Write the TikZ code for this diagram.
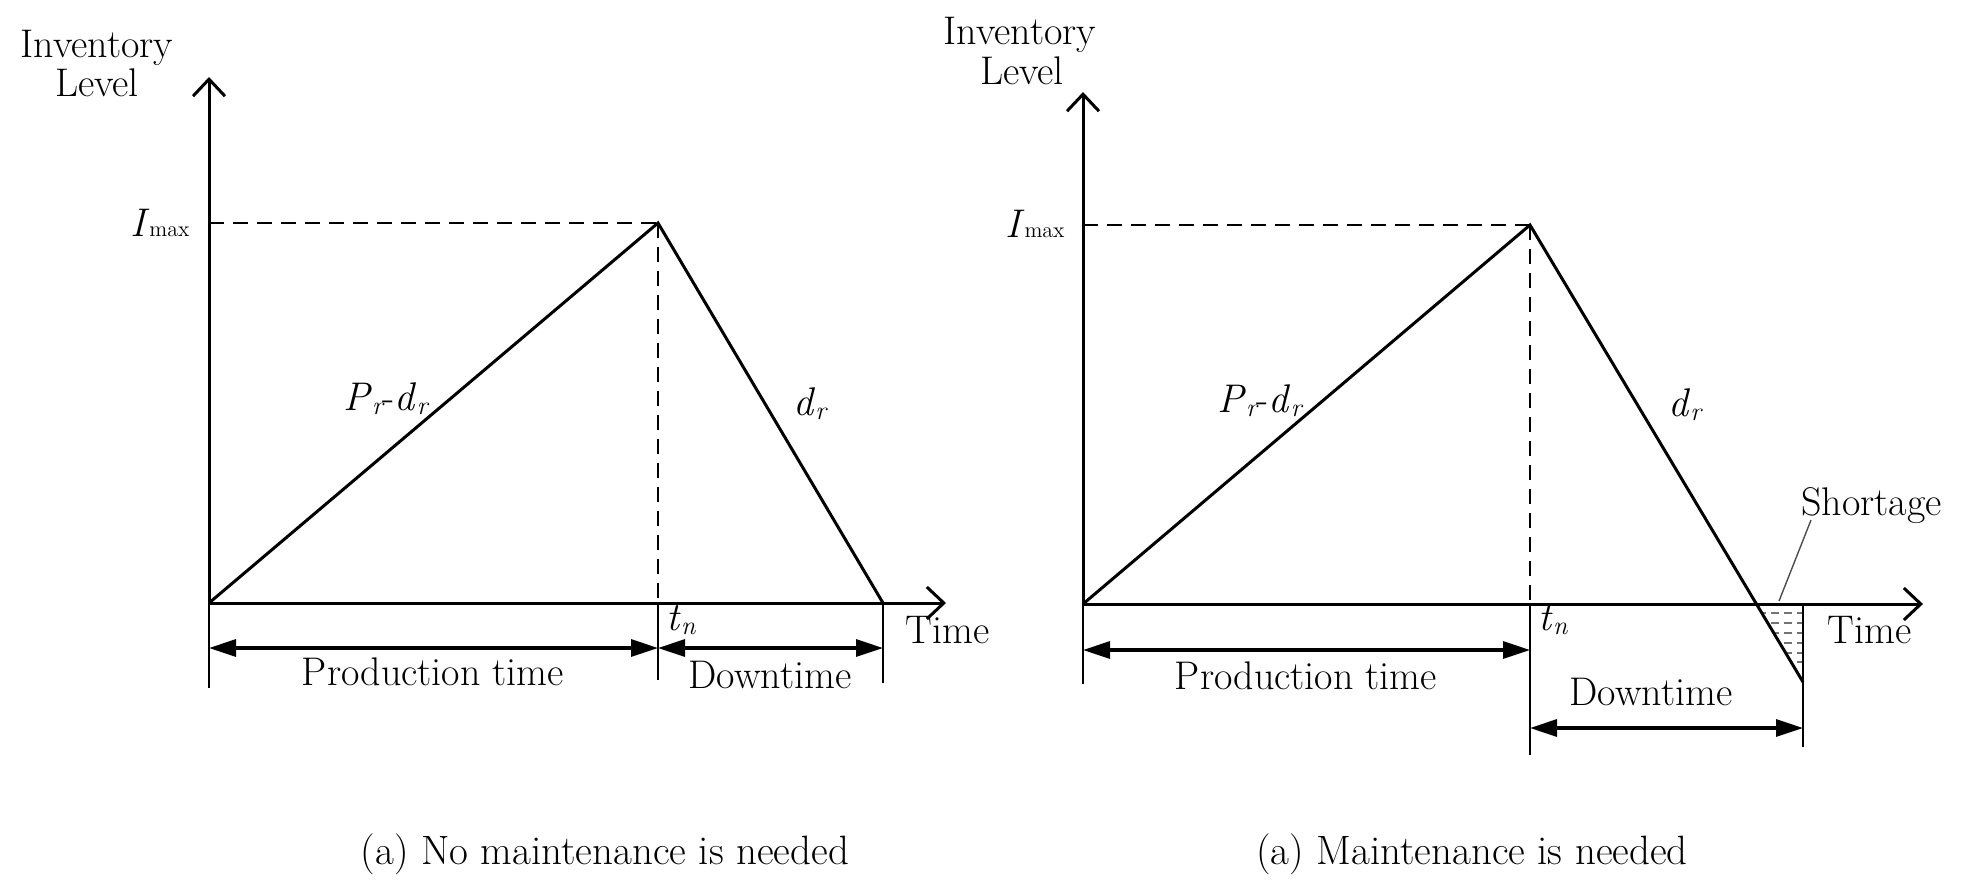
\documentclass[tikz,border=0pt]{standalone}
\usetikzlibrary{arrows.meta}
\begin{document}
\begin{tikzpicture}[x=0.5pt,y=-0.5pt,
  txt/.style={font=\fontsize{20}{24}\selectfont, inner sep=0pt},
  captxt/.style={font=\fontsize{20.5}{24}\selectfont, inner sep=0pt},
  axis/.style={line width=1.5pt, -{Straight Barb[length=8.5pt,width=16pt]}},
  curve/.style={line width=1.5pt},
  guide/.style={line width=1pt, dash pattern=on 7.5pt off 4.5pt},
  tick/.style={line width=1.2pt},
  span/.style={line width=1.6pt, {Triangle[length=13.5pt,width=8.5pt]}-{Triangle[length=13.5pt,width=8.5pt]}},
  hatch/.style={black!55, line width=0.8pt, dash pattern=on 4pt off 2.5pt},
  leader/.style={line width=0.7pt, black!70}]
\newcommand{\maxsub}{{\fontsize{11}{12}\selectfont max}}
\newcommand{\lowsub}[1]{\raisebox{-0.1em}{\fontsize{13}{13}\selectfont\itshape #1}}
\useasboundingbox (0,0) rectangle (1963,894);

% ---------- left panel ----------
\coordinate (LO) at (209,603);
\coordinate (LYtop) at (209,77);
\coordinate (LXend) at (946,603);
\coordinate (LP) at (658,223);
\coordinate (LE) at (883,603);
\coordinate (LImax) at (209,223);
\coordinate (LTn) at (658,603);
\coordinate (LTnBot) at (658,680);
\coordinate (LOBot) at (209,688);
\coordinate (LEBot) at (883,683);
\coordinate (LA1) at (209,648);
\coordinate (LA2) at (658,648);
\coordinate (LA3) at (883,648);

\draw[axis] (LO) -- (LYtop);
\draw[axis] (LO) -- (LXend);
\draw[curve] (LO) -- (LP) -- (LE);
\draw[guide] (LImax) -- (LP);
\draw[guide] (LP) -- (LTn);
\draw[tick] (LTn) -- (LTnBot);
\draw[tick] (LO) -- (LOBot);
\draw[tick] (LE) -- (LEBot);
\draw[span] (LA1) -- (LA2);
\draw[span] (LA2) -- (LA3);

\node[txt, anchor=base] (Linv) at (97,57) {Inventory};
\node[txt, anchor=base] (Llev) at (97,96) {Level};
\node[txt, anchor=base east] (Limax) at (190,236) {\textit{I}\maxsub};
\node[txt, anchor=base east] (Lpd) at (428,410) {\textit{P}\lowsub{r}-\textit{d}\lowsub{r}};
\node[txt, anchor=base west] (Ld) at (793,415) {\textit{d}\lowsub{r}};
\node[txt, anchor=base west] (Ltn) at (666,630) {\textit{t}\lowsub{n}};
\node[txt, anchor=base west] (Ltime) at (905,643) {Time};
\node[txt, anchor=base] (Lprod) at (433,685) {Production time};
\node[txt, anchor=base] (Ldown) at (770,688) {Downtime};
\node[captxt, anchor=base] (Lcap) at (605,864) {(a) No maintenance is needed};

% ---------- right panel ----------
\coordinate (RO) at (1083,604);
\coordinate (RYtop) at (1083,92);
\coordinate (RXend) at (1923,604);
\coordinate (RP) at (1530,225);
\coordinate (RE) at (1803,682);
\coordinate (RImax) at (1083,225);
\coordinate (RTn) at (1530,604);
\coordinate (RTnBot) at (1530,755);
\coordinate (ROBot) at (1083,684);
\coordinate (RVtop) at (1803,604);
\coordinate (RVbot) at (1803,747);
\coordinate (RZ) at (1756,604);
\coordinate (RA1) at (1083,650);
\coordinate (RA2) at (1530,650);
\coordinate (RB1) at (1530,728);
\coordinate (RB2) at (1803,728);
\coordinate (RL1) at (1811,520);
\coordinate (RL2) at (1779,601);

\begin{scope}
  \clip (RZ) -- (RVtop) -- (RE) -- cycle;
  \foreach \yy in {613,623,633,643,653,662}
    \draw[hatch] (1745,\yy) -- (1803,\yy);
\end{scope}

\draw[axis] (RO) -- (RYtop);
\draw[axis] (RO) -- (RXend);
\draw[curve] (RO) -- (RP) -- (RE);
\draw[guide] (RImax) -- (RP);
\draw[guide] (RP) -- (RTn);
\draw[tick] (RTn) -- (RTnBot);
\draw[tick] (RO) -- (ROBot);
\draw[tick] (RVtop) -- (RVbot);
\draw[span] (RA1) -- (RA2);
\draw[span] (RB1) -- (RB2);
\draw[leader] (RL1) -- (RL2);

\node[txt, anchor=base] (Rinv) at (1020,44) {Inventory};
\node[txt, anchor=base] (Rlev) at (1022,84) {Level};
\node[txt, anchor=base east] (Rimax) at (1065,237) {\textit{I}\maxsub};
\node[txt, anchor=base east] (Rpd) at (1302,412) {\textit{P}\lowsub{r}-\textit{d}\lowsub{r}};
\node[txt, anchor=base west] (Rd) at (1668,416) {\textit{d}\lowsub{r}};
\node[txt, anchor=base west] (Rtn) at (1538,630) {\textit{t}\lowsub{n}};
\node[txt, anchor=base west] (Rtime) at (1827,643) {Time};
\node[txt, anchor=base west] (Rshort) at (1801,515) {Shortage};
\node[txt, anchor=base] (Rprod) at (1306,689) {Production time};
\node[txt, anchor=base] (Rdown) at (1651,705) {Downtime};
\node[captxt, anchor=base] (Rcap) at (1472,864) {(a) Maintenance is needed};
\end{tikzpicture}
\end{document}
